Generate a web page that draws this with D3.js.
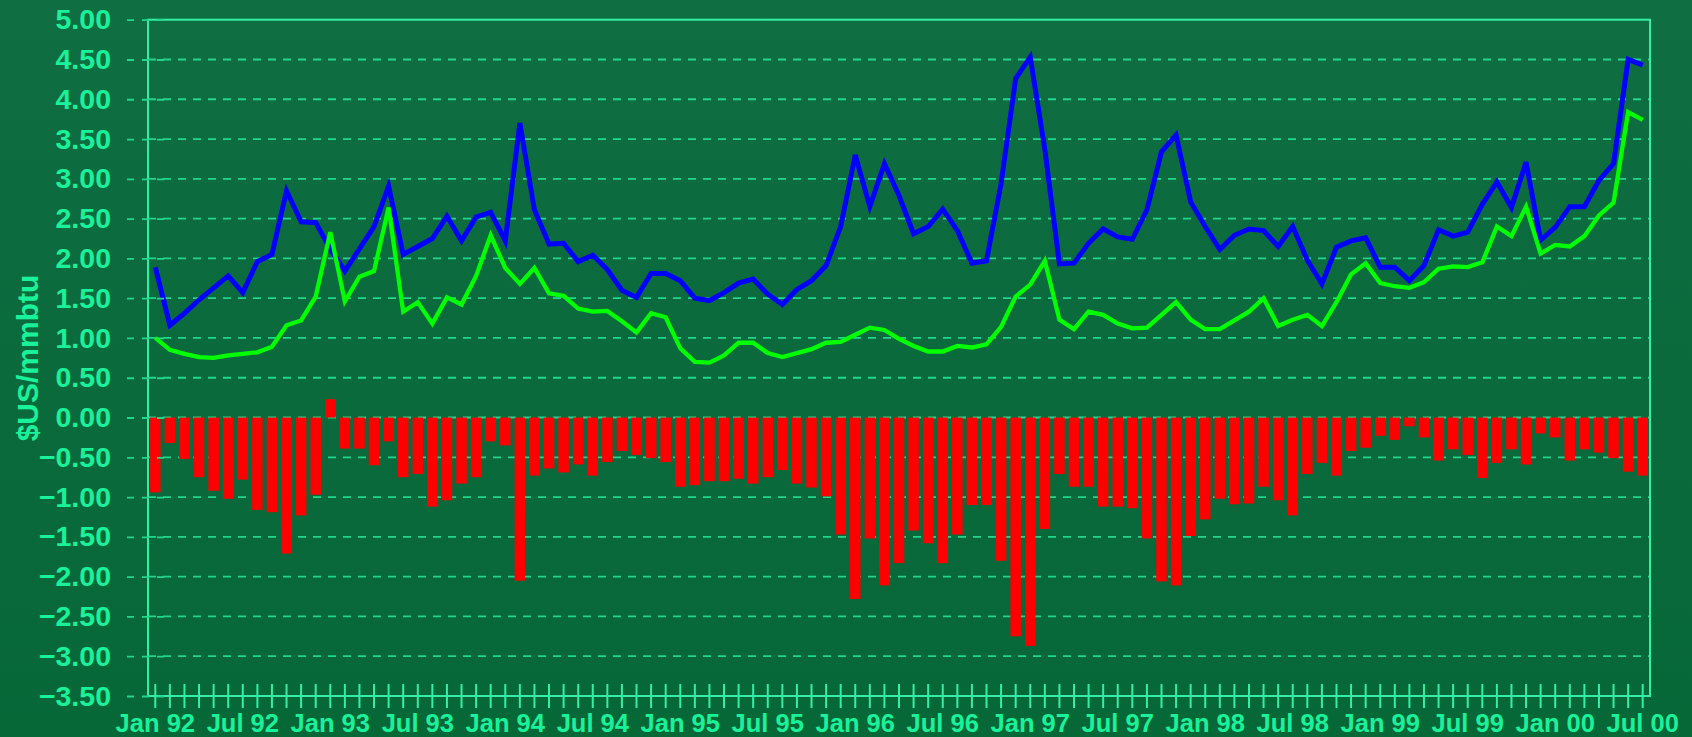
<!DOCTYPE html>
<html>
<head>
<meta charset="utf-8">
<script src="https://cdn.jsdelivr.net/npm/d3@7"></script>
<style>
  html, body { margin: 0; padding: 0; overflow: hidden; }
  body { width: 1692px; height: 737px; }
  text { font-family: "Liberation Sans", Arial, sans-serif; font-weight: bold; }
</style>
</head>
<body>
<svg id="chart" width="1692" height="737"></svg>
<script>
// monthly series, Jan 92 .. Jul 00
let monthNames = ["Jan","Feb","Mar","Apr","May","Jun","Jul","Aug","Sep","Oct","Nov","Dec"];
let years = ["92","93","94","95","96","97","98","99","00"];
let lastMonth = 6; // Jul in the last year

let blueValues = [
  1.89,1.16,1.31,1.48,1.63,1.78,1.57,1.96,2.05,2.85,2.46,2.45,
  2.12,1.84,2.12,2.40,2.91,2.05,2.15,2.25,2.53,2.22,2.52,2.58,
  2.22,3.70,2.61,2.18,2.19,1.96,2.04,1.86,1.60,1.51,1.81,1.81,
  1.72,1.50,1.47,1.57,1.69,1.74,1.55,1.42,1.61,1.72,1.91,2.40,
  3.30,2.65,3.19,2.79,2.31,2.40,2.62,2.35,1.94,1.97,2.94,4.26,
  4.53,3.37,1.93,1.94,2.19,2.37,2.27,2.24,2.61,3.34,3.55,2.71,
  2.40,2.11,2.29,2.37,2.35,2.15,2.40,1.98,1.68,2.14,2.22,2.26,
  1.89,1.89,1.72,1.91,2.36,2.28,2.33,2.68,2.96,2.64,3.21,2.23,
  2.39,2.65,2.65,2.98,3.19,4.50,4.43
];
let greenValues = [
  1.00,0.85,0.80,0.76,0.75,0.78,0.80,0.82,0.89,1.16,1.22,1.52,
  2.33,1.46,1.77,1.84,2.64,1.33,1.45,1.18,1.51,1.42,1.78,2.29,
  1.88,1.68,1.88,1.56,1.53,1.37,1.33,1.34,1.21,1.07,1.31,1.26,
  0.87,0.70,0.69,0.78,0.94,0.94,0.81,0.76,0.81,0.86,0.94,0.95,
  1.04,1.13,1.10,0.99,0.90,0.83,0.83,0.90,0.88,0.92,1.14,1.52,
  1.67,1.97,1.23,1.11,1.33,1.29,1.18,1.12,1.13,1.29,1.45,1.23,
  1.11,1.11,1.22,1.33,1.50,1.15,1.23,1.29,1.15,1.45,1.80,1.94,
  1.69,1.65,1.63,1.70,1.87,1.90,1.89,1.95,2.40,2.28,2.65,2.06,
  2.17,2.15,2.28,2.54,2.70,3.84,3.74
];
let barValues = [
  -0.94,-0.32,-0.52,-0.75,-0.92,-1.02,-0.78,-1.16,-1.19,-1.71,-1.23,-0.97,
  0.23,-0.39,-0.39,-0.60,-0.30,-0.75,-0.71,-1.12,-1.04,-0.83,-0.75,-0.30,
  -0.35,-2.05,-0.73,-0.64,-0.69,-0.59,-0.73,-0.56,-0.42,-0.47,-0.51,-0.56,
  -0.87,-0.85,-0.80,-0.80,-0.77,-0.83,-0.75,-0.66,-0.83,-0.88,-0.99,-1.47,
  -2.28,-1.52,-2.11,-1.83,-1.42,-1.58,-1.83,-1.47,-1.10,-1.10,-1.80,-2.75,
  -2.87,-1.40,-0.71,-0.87,-0.87,-1.12,-1.12,-1.14,-1.52,-2.06,-2.11,-1.49,
  -1.28,-1.02,-1.09,-1.08,-0.87,-1.04,-1.23,-0.71,-0.57,-0.73,-0.42,-0.38,
  -0.23,-0.28,-0.11,-0.25,-0.54,-0.40,-0.47,-0.76,-0.57,-0.40,-0.59,-0.20,
  -0.25,-0.54,-0.40,-0.44,-0.51,-0.68,-0.73
];
let yTicks = [-3.5,-3,-2.5,-2,-1.5,-1,-0.5,0,0.5,1,1.5,2,2.5,3,3.5,4,4.5,5];
let xTickLabels = ["Jan 92","Jul 92","Jan 93","Jul 93","Jan 94","Jul 94","Jan 95","Jul 95",
  "Jan 96","Jul 96","Jan 97","Jul 97","Jan 98","Jul 98","Jan 99","Jul 99","Jan 00","Jul 00"];

let categories = [];
years.forEach((y, yi) => {
  monthNames.forEach((m, mi) => {
    if (yi < years.length - 1 || mi <= lastMonth) categories.push(m + " " + y);
  });
});

let textColor = "#19F29A";
let axisColor = "#34EEA6";
let gridColor = "#22D68E";

let svg = d3.select("#chart");
let plotLeft = 148, plotRight = 1650, plotTop = 19.7, plotBottom = 696;

// background
let grad = svg.append("defs").append("linearGradient")
  .attr("id", "bg").attr("x1", 0).attr("y1", 0).attr("x2", 0).attr("y2", 1);
grad.append("stop").attr("offset", "0%").attr("stop-color", "#0F6E42");
grad.append("stop").attr("offset", "100%").attr("stop-color", "#066737");
svg.append("rect").attr("width", 1692).attr("height", 737).attr("fill", "url(#bg)");

let x = d3.scaleBand()
  .domain(categories)
  .range([plotLeft, plotRight])
  .paddingInner(0.28)
  .paddingOuter(0.14);
let y = d3.scaleLinear()
  .domain([-3.5, 5])
  .range([plotBottom, plotTop]);

// gridlines
svg.append("g")
  .selectAll("line")
  .data(yTicks.filter(d => d > -3.5 && d < 5))
  .enter()
  .append("line")
    .attr("x1", plotLeft)
    .attr("x2", plotRight)
    .attr("y1", d => y(d))
    .attr("y2", d => y(d))
    .style("stroke", gridColor)
    .style("stroke-width", 1.8)
    .style("stroke-dasharray", "8,7");

// red bars
svg.append("g")
  .selectAll("rect")
  .data(barValues)
  .enter()
  .append("rect")
    .attr("x", (d, i) => x(categories[i]))
    .attr("y", d => y(Math.max(0, d)))
    .attr("width", x.bandwidth())
    .attr("height", d => Math.abs(y(d) - y(0)))
    .style("fill", "#FF0000");

// lines
let line = d3.line()
  .x((d, i) => x(categories[i]) + x.bandwidth()/2)
  .y(d => y(d));
svg.append("path")
  .datum(blueValues)
  .attr("d", line)
  .style("fill", "none")
  .style("stroke", "#0000FF")
  .style("stroke-width", 5)
  .style("stroke-linejoin", "miter");
svg.append("path")
  .datum(greenValues)
  .attr("d", line)
  .style("fill", "none")
  .style("stroke", "#00FF00")
  .style("stroke-width", 4.3)
  .style("stroke-linejoin", "miter");

// plot border
svg.append("rect")
  .attr("x", plotLeft).attr("y", plotTop)
  .attr("width", plotRight - plotLeft).attr("height", plotBottom - plotTop)
  .style("fill", "none")
  .style("stroke", axisColor)
  .style("stroke-width", 2);

// y axis
let yAxis = svg.append("g")
  .attr("transform", "translate(" + plotLeft + ",0)")
  .call(d3.axisLeft(y).tickValues(yTicks).tickFormat(d3.format(".2f")).tickSize(22).tickPadding(15))
  .call(g => g.select(".domain").remove());
yAxis.selectAll(".tick line")
  .attr("x1", 16)
  .style("stroke", gridColor)
  .style("stroke-width", 1.8)
  .style("stroke-dasharray", "7,8");
yAxis.selectAll(".tick text")
  .style("fill", textColor)
  .style("font-size", "28.5px")
  .style("font-family", "'Liberation Sans', Arial, sans-serif")
  .style("font-weight", "bold");

// x axis
let xAxis = svg.append("g")
  .attr("transform", "translate(0," + plotBottom + ")")
  .call(d3.axisBottom(x).tickSize(12).tickPadding(6)
    .tickFormat(d => xTickLabels.includes(d) ? d : ""))
  .call(g => g.select(".domain").remove());
xAxis.selectAll(".tick line")
  .attr("y1", -12)
  .style("stroke", axisColor)
  .style("stroke-width", 2);
xAxis.selectAll(".tick text")
  .style("fill", textColor)
  .style("font-size", "25.5px")
  .style("font-family", "'Liberation Sans', Arial, sans-serif")
  .style("font-weight", "bold");

// y axis title
svg.append("text")
  .attr("transform", "translate(27,358) rotate(-90)")
  .text("$US/mmbtu")
  .style("text-anchor", "middle")
  .style("dominant-baseline", "central")
  .style("fill", textColor)
  .style("font-size", "30px");
</script>
</body>
</html>
